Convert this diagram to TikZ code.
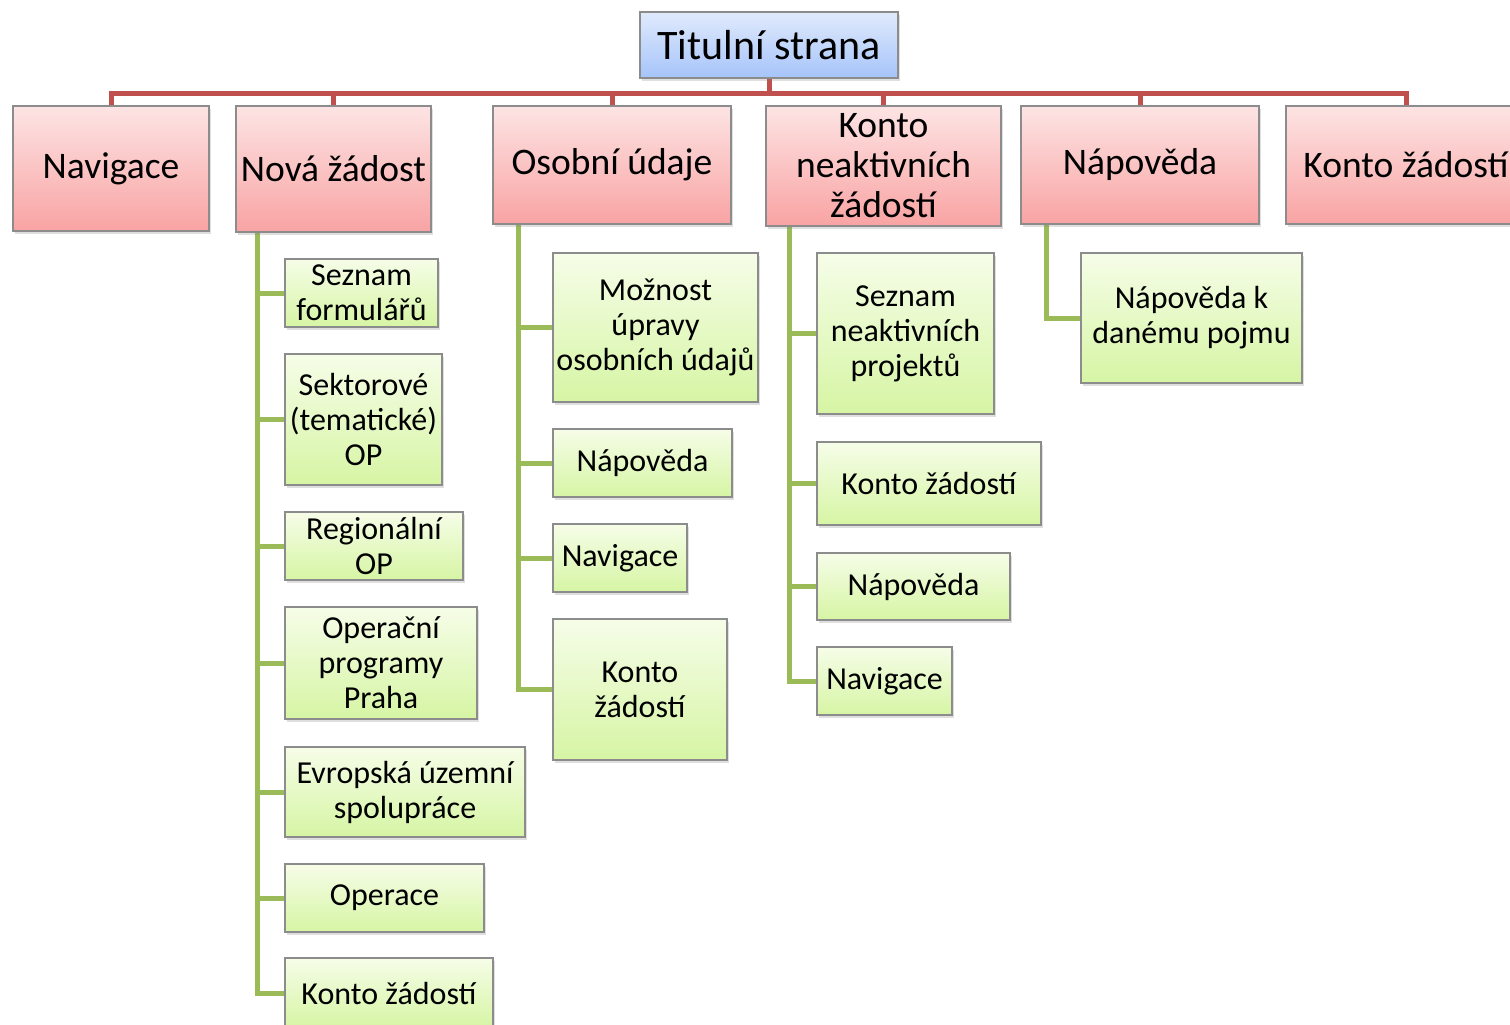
\documentclass[tikz,border=0pt]{standalone}
\usepackage{fontspec}
\setmainfont{Carlito}
\usetikzlibrary{shadows,backgrounds}
\definecolor{redline}{RGB}{192,80,77}
\definecolor{greenline}{RGB}{155,187,89}
\definecolor{boxborder}{RGB}{140,140,140}
\tikzset{
  basebox/.style={draw=boxborder, line width=1.2pt, inner sep=0pt, align=center, text=black,
    drop shadow={shadow xshift=2pt, shadow yshift=-3pt, opacity=0.25}},
  titlebox/.style={basebox, top color={rgb,255:red,224;green,234;blue,252}, bottom color={rgb,255:red,166;green,196;blue,250},
    font=\fontsize{42}{46}\selectfont},
  redbox/.style={basebox, top color={rgb,255:red,253;green,228;blue,228}, bottom color={rgb,255:red,249;green,163;blue,163},
    font=\fontsize{37.5}{40}\selectfont},
  greenbox/.style={basebox, top color={rgb,255:red,246;green,253;blue,232}, bottom color={rgb,255:red,214;green,245;blue,164},
    font=\fontsize{32}{35}\selectfont},
  redconn/.style={draw=redline, line width=5pt},
  greenconn/.style={draw=greenline, line width=5pt},
}
\begin{document}
\begin{tikzpicture}[x=1pt, y=-1pt]
\useasboundingbox (0,0) rectangle (1510,1025);

% title
\node[titlebox, minimum width=258pt, minimum height=66pt] (title) at (769,45) {Titulní strana};

% level 1
\node[redbox, minimum width=196pt, minimum height=125pt] (nav) at (111,168.5) {Navigace};
\node[redbox, minimum width=195pt, minimum height=126pt] (nz) at (333.5,169) {Nová žádost};
\node[redbox, minimum width=238pt, minimum height=118pt] (ou) at (612,165) {Osobní údaje};
\node[redbox, minimum width=235pt, minimum height=120pt] (kn) at (883.5,166) {Konto\\neaktivních\\žádostí};
\node[redbox, minimum width=238pt, minimum height=118pt] (np) at (1140,165) {Nápověda};
\node[redbox, minimum width=240pt, minimum height=118pt] (kz) at (1406,165) {Konto žádostí};

% Nová žádost children
\node[greenbox, minimum width=153pt, minimum height=68pt] (g1) at (361.5,293) {Seznam\\formulářů};
\node[greenbox, minimum width=157pt, minimum height=131pt] (g2) at (363.5,419.5) {Sektorové\\(tematické)\\OP};
\node[greenbox, minimum width=178pt, minimum height=68pt] (g3) at (374,546) {Regionální\\OP};
\node[greenbox, minimum width=192pt, minimum height=112pt] (g4) at (381,663) {Operační\\programy\\Praha};
\node[greenbox, minimum width=240pt, minimum height=90pt] (g5) at (405,792) {Evropská územní\\spolupráce};
\node[greenbox, minimum width=199pt, minimum height=68pt] (g6) at (384.5,898) {Operace};
\node[greenbox, minimum width=208pt, minimum height=70pt] (g7) at (389,993) {Konto žádostí};

% Osobní údaje children
\node[greenbox, minimum width=205pt, minimum height=149pt] (o1) at (655.5,327.5) {Možnost\\úpravy\\osobních údajů};
\node[greenbox, minimum width=179pt, minimum height=68pt] (o2) at (642.5,463) {Nápověda};
\node[greenbox, minimum width=134pt, minimum height=68pt] (o3) at (620,558) {Navigace};
\node[greenbox, minimum width=174pt, minimum height=141pt] (o4) at (640,689.5) {Konto\\žádostí};

% Konto neaktivních žádostí children
\node[greenbox, minimum width=177pt, minimum height=161pt] (k1) at (905.5,333.5) {Seznam\\neaktivních\\projektů};
\node[greenbox, minimum width=224pt, minimum height=83pt] (k2) at (929,483.5) {Konto žádostí};
\node[greenbox, minimum width=193pt, minimum height=67pt] (k3) at (913.5,586.5) {Nápověda};
\node[greenbox, minimum width=135pt, minimum height=68pt] (k4) at (884.5,681) {Navigace};

% Nápověda child
\node[greenbox, minimum width=221pt, minimum height=130pt] (p1) at (1191.5,318) {Nápověda k\\danému pojmu};

\begin{scope}[on background layer]
% red connectors
\foreach \n in {nav,nz,ou,kn,np,kz}{
  \draw[redconn] (title.south) -- ++(0,15) -| (\n.north);
}
% green connectors
\foreach \c in {g1,g2,g3,g4,g5,g6,g7}{
  \draw[greenconn] ([xshift=22pt]nz.south west) |- (\c.west);
}
\foreach \c in {o1,o2,o3,o4}{
  \draw[greenconn] ([xshift=26pt]ou.south west) |- (\c.west);
}
\foreach \c in {k1,k2,k3,k4}{
  \draw[greenconn] ([xshift=24pt]kn.south west) |- (\c.west);
}
\draw[greenconn] ([xshift=26pt]np.south west) |- (p1.west);
\end{scope}
\end{tikzpicture}
\end{document}
